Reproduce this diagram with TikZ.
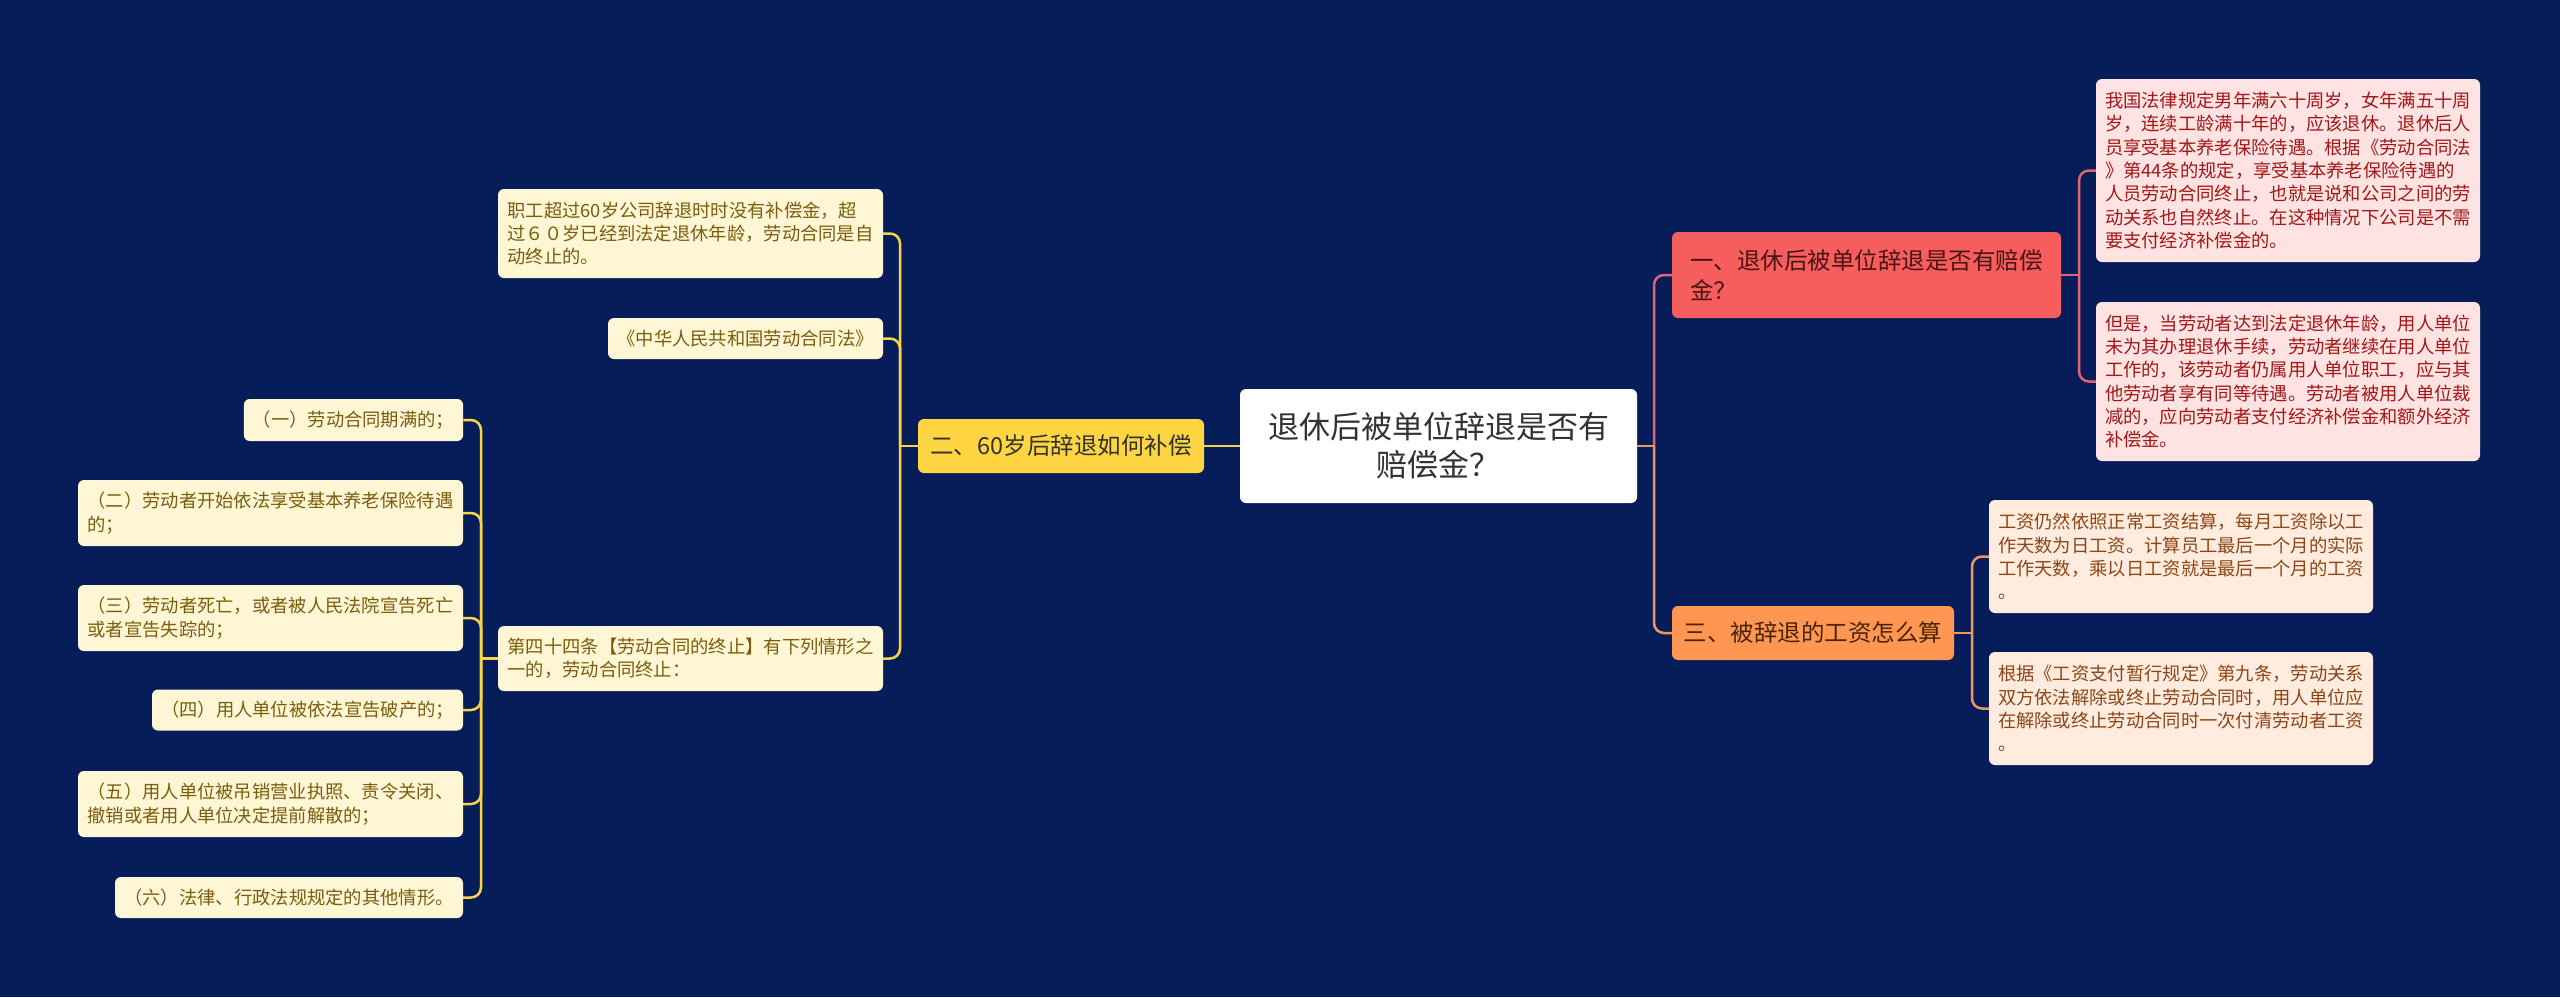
\documentclass[tikz,border=0pt]{standalone}
\usepackage{fontspec}
\newfontfamily\cjk{Noto Sans CJK SC}
\definecolor{bg}{RGB}{7,29,89}
\definecolor{yfill}{RGB}{255,213,66}
\definecolor{yline}{RGB}{250,212,72}
\definecolor{ycream}{RGB}{255,246,214}
\definecolor{ytext}{RGB}{122,94,12}
\definecolor{rfill}{RGB}{246,94,94}
\definecolor{rline}{RGB}{226,100,112}
\definecolor{rtextd}{RGB}{74,20,20}
\definecolor{pfill}{RGB}{255,226,226}
\definecolor{ptext}{RGB}{160,24,24}
\definecolor{ofill}{RGB}{255,150,82}
\definecolor{oline}{RGB}{240,150,96}
\definecolor{otextd}{RGB}{74,36,8}
\definecolor{ocream}{RGB}{255,236,222}
\definecolor{otext}{RGB}{140,70,22}
\definecolor{ctext}{RGB}{51,51,51}
\tikzset{
  box/.style={rectangle, rounded corners=6pt, inner xsep=9pt, inner ysep=0pt, align=left},
  smallfont/.style={font={\cjk\fontsize{18.3pt}{23.3pt}\selectfont}},
  midfont/.style={font={\cjk\fontsize{23.5pt}{30pt}\selectfont}},
  ybox/.style={box, smallfont, fill=ycream, text=ytext},
  pbox/.style={box, smallfont, fill=pfill, text=ptext},
  obox/.style={box, smallfont, fill=ocream, text=otext},
  conny/.style={draw=yline, line width=2.5pt, rounded corners=10pt},
  connr/.style={draw=rline, line width=2.5pt, rounded corners=10pt},
  conno/.style={draw=oline, line width=2.5pt, rounded corners=10pt},
}
\begin{document}
\begin{tikzpicture}[x=1pt,y=-1pt]
\useasboundingbox (0,0) rectangle (2560,997);
\fill[bg] (0,0) rectangle (2560,997);

% center
\node[box, align=center, fill=white, text=ctext, font={\cjk\fontsize{31pt}{38pt}\selectfont},
  minimum width=397pt, minimum height=114pt] (C) at (1438.5,446) {退休后被单位辞退是否有\\赔偿金？};

% yellow branch
\node[box, midfont, fill=yfill, text=ctext, minimum width=286pt, minimum height=54pt] (Y) at (1061,446) {二、60岁后辞退如何补偿};
\node[ybox, minimum width=385pt, minimum height=89pt] (L1) at (690.5,233.5) {职工超过60岁公司辞退时时没有补偿金，超\\过６０岁已经到法定退休年龄，劳动合同是自\\动终止的。};
\node[ybox, minimum width=275pt, minimum height=41pt] (L2) at (745.5,338.5) {《中华人民共和国劳动合同法》};
\node[ybox, minimum width=385pt, minimum height=65pt] (L3) at (690.5,658.5) {第四十四条【劳动合同的终止】有下列情形之\\一的，劳动合同终止：};

\node[ybox, minimum width=219pt, minimum height=42pt] (G1) at (353.5,420) {（一）劳动合同期满的；};
\node[ybox, minimum width=385pt, minimum height=66pt] (G2) at (270.5,513) {（二）劳动者开始依法享受基本养老保险待遇\\的；};
\node[ybox, minimum width=385pt, minimum height=66pt] (G3) at (270.5,618) {（三）劳动者死亡，或者被人民法院宣告死亡\\或者宣告失踪的；};
\node[ybox, minimum width=311pt, minimum height=41pt] (G4) at (307.5,710) {（四）用人单位被依法宣告破产的；};
\node[ybox, minimum width=385pt, minimum height=66pt] (G5) at (270.5,804) {（五）用人单位被吊销营业执照、责令关闭、\\撤销或者用人单位决定提前解散的；};
\node[ybox, minimum width=348pt, minimum height=41pt] (G6) at (289,897.5) {（六）法律、行政法规规定的其他情形。};

% red branch
\node[box, midfont, fill=rfill, text=rtextd, minimum width=389pt, minimum height=86pt] (R) at (1866.5,275) {一、退休后被单位辞退是否有赔偿\\金？};
\node[pbox, minimum width=384pt, minimum height=183pt] (P1) at (2288,170.5) {我国法律规定男年满六十周岁，女年满五十周\\岁，连续工龄满十年的，应该退休。退休后人\\员享受基本养老保险待遇。根据《劳动合同法\\》第44条的规定，享受基本养老保险待遇的\\人员劳动合同终止，也就是说和公司之间的劳\\动关系也自然终止。在这种情况下公司是不需\\要支付经济补偿金的。};
\node[pbox, minimum width=384pt, minimum height=159pt] (P2) at (2288,381.5) {但是，当劳动者达到法定退休年龄，用人单位\\未为其办理退休手续，劳动者继续在用人单位\\工作的，该劳动者仍属用人单位职工，应与其\\他劳动者享有同等待遇。劳动者被用人单位裁\\减的，应向劳动者支付经济补偿金和额外经济\\补偿金。};

% orange branch
\node[box, midfont, fill=ofill, text=otextd, minimum width=282pt, minimum height=54pt] (O) at (1813,633) {三、被辞退的工资怎么算};
\node[obox, minimum width=384pt, minimum height=113pt] (O1) at (2181,556.5) {工资仍然依照正常工资结算，每月工资除以工\\作天数为日工资。计算员工最后一个月的实际\\工作天数，乘以日工资就是最后一个月的工资\\。};
\node[obox, minimum width=384pt, minimum height=113pt] (O2) at (2181,708.5) {根据《工资支付暂行规定》第九条，劳动关系\\双方依法解除或终止劳动合同时，用人单位应\\在解除或终止劳动合同时一次付清劳动者工资\\。};

% junctions
\coordinate (ys) at (900,446);
\coordinate (gs) at (481,658.5);
\coordinate (cs) at (1654,446);
\coordinate (rs) at (2079,275);
\coordinate (os) at (1972,633);

% connectors
\draw[conny] (C.west) -- (Y.east);
\draw[conny] (Y.west) -- (ys);
\draw[conny] (ys) |- (L1.east);
\draw[conny] (ys) |- (L2.east);
\draw[conny] (ys) |- (L3.east);
\draw[conny] (L3.west) -- (gs);
\draw[conny] (gs) |- (G1.east);
\draw[conny] (gs) |- (G2.east);
\draw[conny] (gs) |- (G3.east);
\draw[conny] (gs) |- (G4.east);
\draw[conny] (gs) |- (G5.east);
\draw[conny] (gs) |- (G6.east);
\draw[connr] (cs) |- (R.west);
\draw[conno] (cs) |- (O.west);
\draw[conno] (C.east) -- (cs);
\draw[connr] (R.east) -- (rs);
\draw[connr] (rs) |- (P1.west);
\draw[connr] (rs) |- (P2.west);
\draw[conno] (O.east) -- (os);
\draw[conno] (os) |- (O1.west);
\draw[conno] (os) |- (O2.west);
\end{tikzpicture}
\end{document}
